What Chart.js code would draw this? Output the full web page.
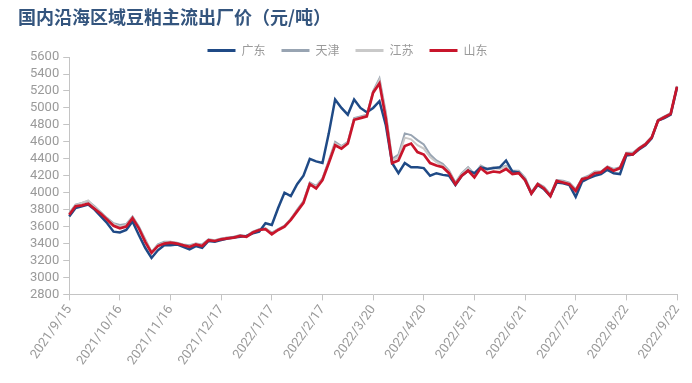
<!DOCTYPE html>
<html>
<head>
<meta charset="utf-8">
<script src="https://cdn.jsdelivr.net/npm/chart.js@4"></script>
<style>
  html, body { margin: 0; padding: 0; background: #fff; }
  #wrap { width: 692px; height: 383px; }
</style>
</head>
<body>
<div id="wrap"><canvas id="priceChart" width="692" height="383"></canvas></div>
<script>
// x axis tick labels, one every 8 points
const tickLabels = ['2021/9/15', '2021/10/16', '2021/11/16', '2021/12/17', '2022/1/17', '2022/2/17',
  '2022/3/20', '2022/4/20', '2022/5/21', '2022/6/21', '2022/7/22', '2022/8/22', '2022/9/22'];
const pointsPerTick = 8;
const yTicks = { min: 2800, max: 5600, step: 200 };

const seriesNames = ['广东', '天津', '江苏', '山东'];
const seriesColors = ['#1f4a86', '#98a4b2', '#c9c9c9', '#c8152b'];

const guangdong = [3720, 3820, 3840, 3860, 3800, 3720, 3640, 3540, 3530, 3560, 3660, 3500, 3350, 3230, 3320, 3380,
  3380, 3390, 3360, 3330, 3370, 3350, 3430, 3420, 3440, 3460, 3470, 3480, 3490, 3520, 3540, 3640,
  3620, 3820, 4000, 3960, 4100, 4200, 4400, 4370, 4350, 4700, 5100, 5000, 4920, 5100, 5000, 4950,
  5000, 5080, 4800, 4350, 4230, 4350, 4300, 4300, 4290, 4200, 4230, 4210, 4200, 4090, 4200, 4260,
  4230, 4300, 4280, 4290, 4300, 4380, 4250, 4240, 4150, 3990, 4090, 4040, 3960, 4120, 4110, 4090,
  3950, 4130, 4170, 4200, 4220, 4270, 4230, 4220, 4440, 4450, 4510, 4560, 4640, 4850, 4880, 4920, 5240];

const tianjin = [3760, 3860, 3880, 3900, 3840, 3770, 3700, 3640, 3620, 3630, 3720, 3600, 3450, 3300, 3390, 3420,
  3420, 3410, 3390, 3380, 3400, 3390, 3450, 3440, 3460, 3470, 3480, 3500, 3490, 3540, 3570, 3580,
  3530, 3570, 3610, 3690, 3800, 3900, 4120, 4080, 4170, 4380, 4600, 4550, 4600, 4880, 4900, 4920,
  5200, 5350, 4950, 4400, 4450, 4700, 4680, 4620, 4570, 4450, 4380, 4340, 4260, 4120, 4230, 4300,
  4220, 4320, 4280, 4300, 4290, 4320, 4260, 4260, 4180, 4010, 4110, 4070, 3980, 4150, 4140, 4120,
  4040, 4170, 4200, 4250, 4250, 4310, 4280, 4300, 4470, 4470, 4530, 4580, 4660, 4860, 4900, 4940, 5260];

const jiangsu = [3750, 3850, 3880, 3910, 3830, 3760, 3690, 3630, 3600, 3620, 3710, 3590, 3440, 3300, 3380, 3410,
  3420, 3400, 3380, 3370, 3400, 3380, 3440, 3440, 3450, 3470, 3480, 3490, 3490, 3530, 3560, 3580,
  3520, 3570, 3600, 3690, 3790, 3890, 4110, 4070, 4160, 4370, 4580, 4540, 4590, 4870, 4890, 4910,
  5180, 5330, 4930, 4380, 4420, 4650, 4630, 4560, 4520, 4420, 4360, 4320, 4250, 4110, 4220, 4290,
  4210, 4310, 4270, 4290, 4280, 4310, 4250, 4250, 4170, 4000, 4100, 4060, 3970, 4140, 4130, 4110,
  4030, 4160, 4190, 4240, 4240, 4300, 4270, 4290, 4460, 4460, 4520, 4570, 4650, 4850, 4890, 4930, 5250];

const shandong = [3740, 3840, 3850, 3870, 3810, 3750, 3680, 3610, 3580, 3600, 3700, 3580, 3420, 3290, 3370, 3400,
  3410, 3400, 3380, 3360, 3390, 3370, 3440, 3430, 3450, 3460, 3470, 3490, 3480, 3530, 3560, 3570,
  3510, 3560, 3600, 3680, 3780, 3880, 4100, 4050, 4150, 4350, 4560, 4520, 4580, 4860, 4880, 4900,
  5180, 5290, 4880, 4350, 4380, 4550, 4580, 4480, 4450, 4350, 4320, 4300, 4230, 4100, 4200, 4260,
  4180, 4290, 4230, 4250, 4240, 4280, 4220, 4230, 4150, 3990, 4100, 4050, 3960, 4140, 4120, 4100,
  4020, 4160, 4180, 4230, 4240, 4300, 4260, 4290, 4460, 4450, 4520, 4570, 4650, 4850, 4890, 4930, 5250];

const allSeries = [guangdong, tianjin, jiangsu, shandong];
const drawOrder = [1, 3, 2, 0]; // lower is drawn on top
const lineWidths = [2.5, 2, 2, 2.7];

const labels = guangdong.map((v, i) => (i % pointsPerTick === 0 ? tickLabels[i / pointsPerTick] : ''));

const gray = '#9a9a9a';
const axisColor = '#c4c4c4';

const chart = new Chart(document.getElementById('priceChart').getContext('2d'), {
  type: 'line',
  data: {
    labels: labels,
    datasets: allSeries.map((s, i) => ({
      label: seriesNames[i],
      data: s,
      borderColor: seriesColors[i],
      backgroundColor: seriesColors[i],
      borderWidth: lineWidths[i],
      pointRadius: 0,
      tension: 0,
      order: drawOrder[i]
    }))
  },
  options: {
    responsive: false,
    animation: false,
    layout: { autoPadding: false, padding: { left: 18, right: 15, top: 6, bottom: 13 } },
    plugins: {
      title: {
        display: true,
        text: '国内沿海区域豆粕主流出厂价（元/吨）',
        align: 'start',
        color: '#34557e',
        font: { family: '"Noto Sans CJK SC", sans-serif', size: 18, weight: 'bold' },
        padding: { top: 0, bottom: 1 }
      },
      legend: {
        position: 'top',
        maxHeight: 28.5,
        labels: {
          color: gray,
          font: { family: '"Noto Sans CJK SC", sans-serif', size: 12 },
          boxWidth: 28,
          boxHeight: 3,
          padding: 16,
          sort: (a, b) => a.datasetIndex - b.datasetIndex,
          generateLabels: (c) => Chart.defaults.plugins.legend.labels.generateLabels(c)
            .map(l => Object.assign(l, { lineWidth: 0, strokeStyle: 'transparent' }))
        }
      },
      tooltip: { enabled: false }
    },
    scales: {
      x: {
        grid: { drawOnChartArea: false, tickLength: 6, color: axisColor },
        border: { color: axisColor },
        ticks: {
          color: gray,
          autoSkip: false,
          maxRotation: 55,
          minRotation: 55,
          padding: 2,
          font: { family: 'Roboto, "Liberation Sans", sans-serif', size: 13 },
          callback: function (value) {
            const l = this.getLabelForValue(value);
            return l === '' ? null : l;
          }
        }
      },
      y: {
        min: yTicks.min,
        max: yTicks.max,
        afterFit: (scale) => { scale.width += 8; },
        grid: { drawOnChartArea: false, tickLength: 6, color: axisColor },
        border: { color: axisColor },
        ticks: {
          stepSize: yTicks.step,
          autoSkip: false,
          color: gray,
          padding: 4,
          font: { family: 'Roboto, "Liberation Sans", sans-serif', size: 13 },
          callback: (value) => String(value)
        }
      }
    }
  }
});
</script>
</body>
</html>
